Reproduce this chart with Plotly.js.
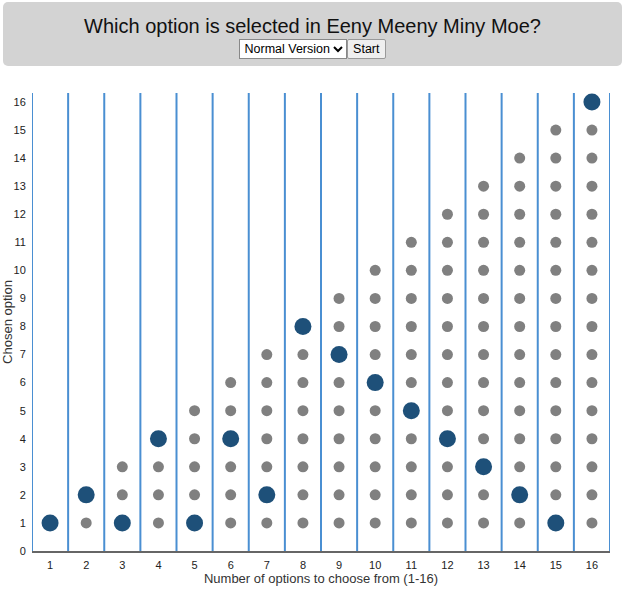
<!DOCTYPE html>
<html>
<head>
<meta charset="utf-8">
<script src="https://cdn.plot.ly/plotly-3.0.1.min.js"></script>
<style>
  html, body { margin: 0; padding: 0; background: #fff; font-family: "Liberation Sans", Arial, sans-serif; }
  #header {
    position: absolute; left: 3px; top: 2px; width: 619px; height: 64px;
    background: #d3d3d3; border-radius: 5px; text-align: center;
  }
  #header h1 { margin: 0; padding-top: 13px; font-size: 20px; font-weight: normal; color: #111; line-height: 22px; }
  #controls { margin-top: 2px; font-size: 13px; }
  #controls select, #controls button { font-family: "Liberation Sans", Arial, sans-serif; font-size: 12.5px; height: 20px; vertical-align: middle; }
  #controls select { background: #fff; border: 1px solid #888; padding: 0; }
  #controls button { background: #efefef; border: 1px solid #999; border-radius: 2px; padding: 0 5px; margin-left: -4px; }
  #chart { position: absolute; left: 0; top: 70px; width: 625px; height: 520px; }
</style>
</head>
<body>
<div id="header">
  <h1>Which option is selected in Eeny Meeny Miny Moe?</h1>
  <div id="controls">
    <select><option>Normal Version</option></select>
    <button>Start</button>
  </div>
</div>
<div id="chart"></div>
<script>
// Number of options in each round (x axis categories)
const optionCounts = [1, 2, 3, 4, 5, 6, 7, 8, 9, 10, 11, 12, 13, 14, 15, 16];
// Option the rhyme lands on for each count
const chosenOption = [1, 2, 1, 4, 1, 4, 2, 8, 7, 6, 5, 4, 3, 2, 1, 16];
// Axis tick labels
const xTickLabels = ['1','2','3','4','5','6','7','8','9','10','11','12','13','14','15','16'];
const yTickVals = [0,1,2,3,4,5,6,7,8,9,10,11,12,13,14,15,16];

// Every option that was not picked, per count
const otherX = [], otherY = [];
optionCounts.forEach((n, i) => {
  for (let k = 1; k <= n; k++) {
    if (k !== chosenOption[i]) { otherX.push(n); otherY.push(k); }
  }
});

const traces = [
  {
    x: otherX, y: otherY, type: 'scatter', mode: 'markers',
    marker: { size: 11, color: '#808080' }, hoverinfo: 'x+y', showlegend: false
  },
  {
    x: optionCounts, y: chosenOption, type: 'scatter', mode: 'markers',
    marker: { size: 17, color: '#1e5079' }, hoverinfo: 'x+y', showlegend: false
  }
];

// Column separators between counts
const shapes = [];
for (let b = 0; b <= optionCounts.length; b++) {
  shapes.push({
    type: 'line', xref: 'x', yref: 'paper',
    x0: b + 0.5, x1: b + 0.5, y0: 0, y1: 1,
    line: { color: '#4a8fd2', width: 2 }, layer: 'below'
  });
}

const layout = {
  width: 625, height: 520,
  margin: { l: 32, r: 15, t: 23, b: 39 },
  paper_bgcolor: '#fff', plot_bgcolor: '#fff',
  font: { family: '"Liberation Sans", Arial, sans-serif', size: 11, color: '#222' },
  xaxis: {
    range: [0.5, 16.5], tickvals: optionCounts, ticktext: xTickLabels,
    showgrid: false, zeroline: false, showline: true, linecolor: '#666', linewidth: 2,
    ticks: 'outside', ticklen: 3, tickcolor: 'rgba(0,0,0,0)',
    title: { text: 'Number of options to choose from (1-16)', font: { size: 13, color: '#333' }, standoff: 2 },
    fixedrange: true
  },
  yaxis: {
    range: [0, 16.32], tickvals: yTickVals,
    showgrid: false, zeroline: false, showline: false,
    ticks: 'outside', ticklen: 3, tickcolor: 'rgba(0,0,0,0)',
    title: { text: 'Chosen option', font: { size: 13, color: '#333' }, standoff: 5 },
    fixedrange: true
  },
  shapes: shapes,
  showlegend: false
};

Plotly.newPlot('chart', traces, layout, { displayModeBar: false, staticPlot: true });
</script>
</body>
</html>
